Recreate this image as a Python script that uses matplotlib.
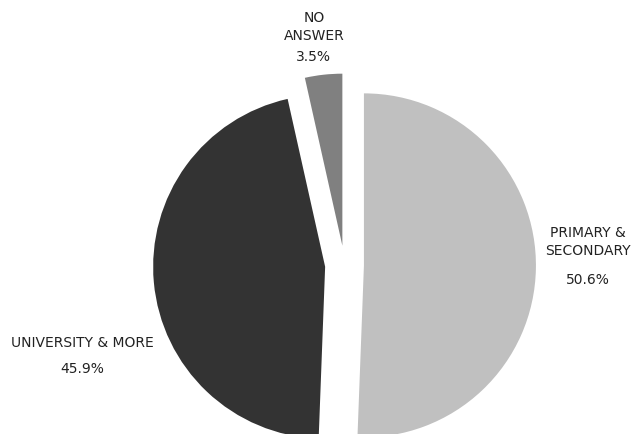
import matplotlib.pyplot as plt

labels = ['PRIMARY &\nSECONDARY', 'UNIVERSITY & MORE', 'NO\nANSWER']
shares = [50.6, 45.9, 3.5]
colors = ['#c0c0c0', '#333333', '#808080']

W, H = 632, 435
cx, cy, R = 344.5, 266.0, 172.0   # pie centre / radius in pixels (y from top)

fig = plt.figure(figsize=(W / 100, H / 100), dpi=100)
ax = fig.add_axes([0, 0, 1, 1])

ax.pie(shares, colors=colors, startangle=90, counterclock=False,
       explode=[0.113] * 3, radius=1.0, normalize=True,
       wedgeprops=dict(linewidth=0))
# pie() resets the limits, so set them afterwards
ax.set_xlim(-cx / R, (W - cx) / R)
ax.set_ylim(-(H - cy) / R, cy / R)
ax.set_aspect('auto')
ax.axis('off')

# label positions in pixels from the top-left corner
name_pos = [(588, 242), (82, 343), (314, 27)]
pct_pos = [(588, 280), (82, 369), (313, 57)]
for lab, v, (nx, ny), (px, py) in zip(labels, shares, name_pos, pct_pos):
    ax.annotate(lab, (nx, H - ny), xycoords='figure pixels', ha='center',
                va='center', fontsize=10, color='#222222', linespacing=1.3)
    ax.annotate('%.1f%%' % v, (px, H - py), xycoords='figure pixels',
                ha='center', va='center', fontsize=10, color='#222222')

plt.savefig('out.png', dpi=100, facecolor='white')
